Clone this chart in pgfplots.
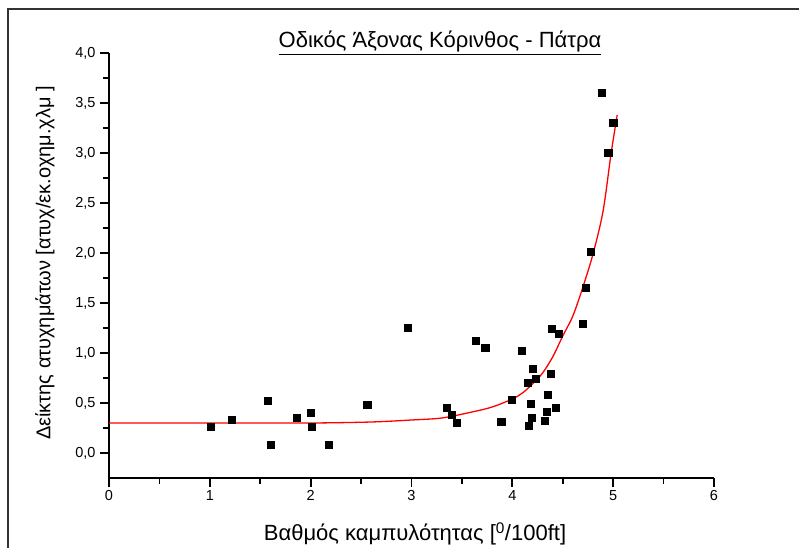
\documentclass[border=0pt]{standalone}
\usepackage{fontspec}
\setmainfont{Liberation Sans}
\usepackage{pgfplots}
\pgfplotsset{compat=1.18}

\begin{document}
\begin{tikzpicture}[x=1pt,y=1pt]
\useasboundingbox (0,0) rectangle (799,548);
% outer frame (top and left edges)
\draw[line width=1.4pt, black!80] (8,0) -- (8,539) -- (799,539);

\begin{axis}[
  at={(109pt,70pt)}, anchor=south west,
  scale only axis, width=605pt, height=425pt,
  xmin=0, xmax=6, ymin=-0.25, ymax=4.0,
  axis x line*=bottom, axis y line*=left,
  axis line style={line width=1.8pt, -},
  xtick={0,1,2,3,4,5,6}, minor xtick={0.5,1.5,2.5,3.5,4.5,5.5},
  ytick={0,0.5,1,1.5,2,2.5,3,3.5,4},
  minor ytick={0.25,0.75,1.25,1.75,2.25,2.75,3.25,3.75},
  tick align=outside,
  major tick length=9pt, minor tick length=6pt,
  every tick/.append style={black, line width=1.8pt},
  /pgf/number format/assume math mode=true,
  xticklabel={\fontsize{14.5}{16}\selectfont\pgfmathprintnumber[fixed,precision=0]{\tick}},
  yticklabel={\fontsize{14.5}{16}\selectfont\pgfmathprintnumber[use comma,fixed,fixed zerofill,precision=1]{\tick}},
  yticklabel style={xshift=-1pt},
  clip=false,
]
% fitted curve
\addplot[red, line width=1.3pt, smooth] coordinates {
  (0,0.30) (1.0,0.30) (2.0,0.30) (2.6,0.31) (3.0,0.33) (3.3,0.35)
  (3.6,0.41) (3.8,0.46) (4.0,0.54) (4.1,0.60) (4.2,0.69) (4.3,0.80)
  (4.4,0.96) (4.5,1.17) (4.6,1.37) (4.7,1.66) (4.8,1.99) (4.9,2.42)
  (4.98,3.00) (5.04,3.38)
};
% observed accident rates
\addplot[only marks, mark=square*, mark size=3.6pt, black] coordinates {
  (1.01,0.26) (1.22,0.33) (1.57,0.52) (1.60,0.08) (1.86,0.35)
  (2.00,0.40) (2.01,0.26) (2.18,0.08) (2.56,0.48) (2.96,1.25)
  (3.35,0.45) (3.40,0.38) (3.45,0.30) (3.64,1.12) (3.73,1.05)
  (3.89,0.31) (3.99,0.53) (4.09,1.02) (4.15,0.70) (4.20,0.84)
  (4.23,0.74) (4.18,0.49) (4.19,0.35) (4.16,0.27) (4.38,0.79)
  (4.35,0.58) (4.34,0.41) (4.32,0.32) (4.43,0.45) (4.39,1.24)
  (4.46,1.19) (4.70,1.29) (4.73,1.65) (4.78,2.01) (4.89,3.60)
  (4.95,3.00) (5.00,3.30)
};
\end{axis}

\node[font=\fontsize{22}{24}\selectfont] at (440,505) {\underline{Οδικός Άξονας Κόρινθος - Πάτρα}};
\node[font=\fontsize{22}{24}\selectfont] at (415,14) {Βαθμός καμπυλότητας [\textsuperscript{0}/100ft]};
\node[font=\fontsize{20}{22}\selectfont, rotate=90] at (45,285) {Δείκτης ατυχημάτων [ατυχ/εκ.οχημ.χλμ ]};
\end{tikzpicture}
\end{document}
